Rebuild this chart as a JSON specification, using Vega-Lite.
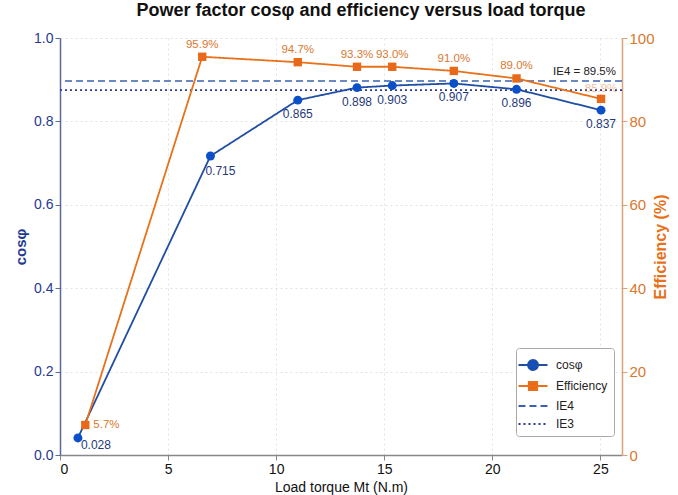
{
  "$schema": "https://vega.github.io/schema/vega-lite/v6.json",
  "autosize": {"type": "none"},
  "width": 562,
  "height": 417,
  "padding": {"left": 60, "top": 38, "right": 56, "bottom": 40},
  "background": "white",
  "config": {"view": {"stroke": null}, "font": "Liberation Sans"},
  "title": {"text": "Power factor cosφ and efficiency versus load torque", "fontSize": 18, "fontWeight": "bold", "color": "#111", "anchor": "middle", "dx": 20, "offset": 11},
  "datasets": {
    "cos": [
      {"torque": 0.83, "cos": 0.041, "label": "0.028", "series": "cosφ"},
      {"torque": 6.96, "cos": 0.717, "label": "0.715", "series": "cosφ"},
      {"torque": 11.0, "cos": 0.851, "label": "0.865", "series": "cosφ"},
      {"torque": 13.74, "cos": 0.881, "label": "0.898", "series": "cosφ"},
      {"torque": 15.37, "cos": 0.886, "label": "0.903", "series": "cosφ"},
      {"torque": 18.22, "cos": 0.891, "label": "0.907", "series": "cosφ"},
      {"torque": 21.12, "cos": 0.877, "label": "0.896", "series": "cosφ"},
      {"torque": 25.03, "cos": 0.827, "label": "0.837", "series": "cosφ"}
    ],
    "eff": [
      {"torque": 1.17, "eff": 7.2, "label": "5.7%", "series": "Efficiency"},
      {"torque": 6.58, "eff": 95.5, "label": "95.9%", "series": "Efficiency"},
      {"torque": 11.0, "eff": 94.2, "label": "94.7%", "series": "Efficiency"},
      {"torque": 13.74, "eff": 93.1, "label": "93.3%", "series": "Efficiency"},
      {"torque": 15.37, "eff": 93.1, "label": "93.0%", "series": "Efficiency"},
      {"torque": 18.22, "eff": 92.1, "label": "91.0%", "series": "Efficiency"},
      {"torque": 21.12, "eff": 90.3, "label": "89.0%", "series": "Efficiency"},
      {"torque": 25.03, "eff": 85.4, "label": "85.9%", "series": "Efficiency"}
    ],
    "ie": [
      {"series": "IE4", "cos": 0.897, "torque": 26, "label": "IE4 = 89.5%"},
      {"series": "IE3", "cos": 0.875, "torque": 26, "label": ""}
    ]
  },
  "layer": [
    {
      "layer": [
        {
          "data": {"name": "ie"},
          "mark": {"type": "rule", "strokeWidth": 1.6},
          "encoding": {
            "y": {"field": "cos", "type": "quantitative", "scale": {"domain": [0, 1]},
              "axis": {"orient": "left", "values": [0, 0.2, 0.4, 0.6, 0.8, 1.0], "format": ".1f", "title": "cosφ", "titleColor": "#1f3a93", "titleFontSize": 15, "titleFontWeight": "bold", "labelColor": "#1f3a93", "labelFontSize": 14, "domainColor": "#5a6a9a", "tickColor": "#5a6a9a", "domainWidth": 1.5, "tickSize": 5, "grid": true, "gridColor": "#e2e2e2", "gridDash": [2, 3], "titlePadding": 5}},
            "color": {"field": "series", "type": "nominal",
              "scale": {"domain": ["cosφ", "Efficiency", "IE4", "IE3"], "range": ["#1f4ea3", "#e8711a", "#3a62b0", "#2c3e8c"]},
              "legend": {"title": null, "orient": "none", "legendX": 456, "legendY": 310, "strokeColor": "#aaa", "fillColor": "white", "padding": 6, "cornerRadius": 3, "symbolSize": 400, "labelFontSize": 12, "labelColor": "#222", "rowPadding": 1, "labelOffset": 12, "symbolStrokeWidth": 1.8,
                "encode": {"symbols": {"update": {
                  "shape": {"signal": "datum.value === 'cosφ' ? 'M-1.45,0H1.45M0.5,0A0.5,0.5 0 1 1 -0.5,0A0.5,0.5 0 1 1 0.5,0Z' : datum.value === 'Efficiency' ? 'M-1.45,0H1.45M-0.42,-0.42H0.42V0.42H-0.42Z' : 'M-1.45,0H1.45'"},
                  "fill": {"signal": "datum.value === 'cosφ' ? '#0b50c8' : datum.value === 'Efficiency' ? '#e8691a' : 'transparent'"}
                }}}}},
            "strokeDash": {"field": "series", "type": "nominal",
              "scale": {"domain": ["cosφ", "Efficiency", "IE4", "IE3"], "range": [[1, 0], [1, 0], [7, 4], [2, 3]]},
              "legend": {"title": null}}
          }
        },
        {
          "data": {"name": "ie"},
          "transform": [{"filter": "datum.label !== ''"}],
          "mark": {"type": "text", "align": "right", "dx": -6, "dy": -9, "fontSize": 11.5, "color": "#222"},
          "encoding": {
            "x": {"field": "torque", "type": "quantitative"},
            "y": {"field": "cos", "type": "quantitative"},
            "text": {"field": "label"}
          }
        },
        {
          "data": {"name": "cos"},
          "mark": {"type": "line", "strokeWidth": 1.8},
          "encoding": {
            "x": {"field": "torque", "type": "quantitative", "scale": {"domain": [0, 26], "nice": false},
              "axis": {"values": [0, 5, 10, 15, 20, 25], "title": "Load torque Mt (N.m)", "titleFontSize": 14, "titleFontWeight": "normal", "titleColor": "#111", "labelColor": "#111", "labelFontSize": 14, "domainColor": "#888", "tickColor": "#888", "domainWidth": 1.5, "grid": true, "gridColor": "#e2e2e2", "gridDash": [2, 3], "titlePadding": 4}},
            "y": {"field": "cos", "type": "quantitative"},
            "color": {"field": "series", "type": "nominal"},
            "strokeDash": {"field": "series", "type": "nominal"}
          }
        },
        {
          "data": {"name": "cos"},
          "mark": {"type": "point", "shape": "circle", "filled": true, "size": 80, "color": "#0b50c8", "opacity": 1},
          "encoding": {
            "x": {"field": "torque", "type": "quantitative"},
            "y": {"field": "cos", "type": "quantitative"}
          }
        },
        {
          "data": {"name": "cos"},
          "transform": [{"filter": "datum.label !== '0.715' && datum.label !== '0.028'"}],
          "mark": {"type": "text", "dy": 14, "fontSize": 12, "color": "#1f3a7a"},
          "encoding": {
            "x": {"field": "torque", "type": "quantitative"},
            "y": {"field": "cos", "type": "quantitative"},
            "text": {"field": "label"}
          }
        },
        {
          "data": {"name": "cos"},
          "transform": [{"filter": "datum.label === '0.715'"}],
          "mark": {"type": "text", "align": "left", "dx": -5, "dy": 15, "fontSize": 12, "color": "#1f3a7a"},
          "encoding": {
            "x": {"field": "torque", "type": "quantitative"},
            "y": {"field": "cos", "type": "quantitative"},
            "text": {"field": "label"}
          }
        },
        {
          "data": {"name": "cos"},
          "transform": [{"filter": "datum.label === '0.028'"}],
          "mark": {"type": "text", "align": "left", "dx": 3, "dy": 7, "fontSize": 12, "color": "#1f3a7a"},
          "encoding": {
            "x": {"field": "torque", "type": "quantitative"},
            "y": {"field": "cos", "type": "quantitative"},
            "text": {"field": "label"}
          }
        }
      ]
    },
    {
      "layer": [
        {
          "data": {"name": "eff"},
          "mark": {"type": "line", "strokeWidth": 1.8},
          "encoding": {
            "x": {"field": "torque", "type": "quantitative"},
            "y": {"field": "eff", "type": "quantitative", "scale": {"domain": [0, 100]},
              "axis": {"orient": "right", "values": [0, 20, 40, 60, 80, 100], "title": "Efficiency (%)", "titleColor": "#e8711a", "titleFontSize": 16, "titleFontWeight": "bold", "titleAngle": 270, "labelColor": "#d9782e", "labelFontSize": 15, "domainColor": "#d9a27a", "tickColor": "#d9a27a", "domainWidth": 1.5, "tickSize": 5, "grid": false, "titlePadding": 14}},
            "color": {"field": "series", "type": "nominal"},
            "strokeDash": {"field": "series", "type": "nominal"}
          }
        },
        {
          "data": {"name": "eff"},
          "mark": {"type": "point", "shape": "square", "filled": true, "size": 70, "color": "#e8691a", "opacity": 1},
          "encoding": {
            "x": {"field": "torque", "type": "quantitative"},
            "y": {"field": "eff", "type": "quantitative"}
          }
        },
        {
          "data": {"name": "eff"},
          "transform": [{"filter": "datum.label !== '5.7%' && datum.label !== '85.9%'"}],
          "mark": {"type": "text", "dy": -12, "fontSize": 11.5, "color": "#d9782e"},
          "encoding": {
            "x": {"field": "torque", "type": "quantitative"},
            "y": {"field": "eff", "type": "quantitative"},
            "text": {"field": "label"}
          }
        },
        {
          "data": {"name": "eff"},
          "transform": [{"filter": "datum.label === '85.9%'"}],
          "mark": {"type": "text", "dy": -10, "fontSize": 11.5, "color": "#d9782e", "opacity": 0.45},
          "encoding": {
            "x": {"field": "torque", "type": "quantitative"},
            "y": {"field": "eff", "type": "quantitative"},
            "text": {"field": "label"}
          }
        },
        {
          "data": {"name": "eff"},
          "transform": [{"filter": "datum.label === '5.7%'"}],
          "mark": {"type": "text", "align": "left", "dx": 8, "fontSize": 11.5, "color": "#d9782e"},
          "encoding": {
            "x": {"field": "torque", "type": "quantitative"},
            "y": {"field": "eff", "type": "quantitative"},
            "text": {"field": "label"}
          }
        }
      ]
    }
  ],
  "resolve": {"scale": {"y": "independent"}}
}
